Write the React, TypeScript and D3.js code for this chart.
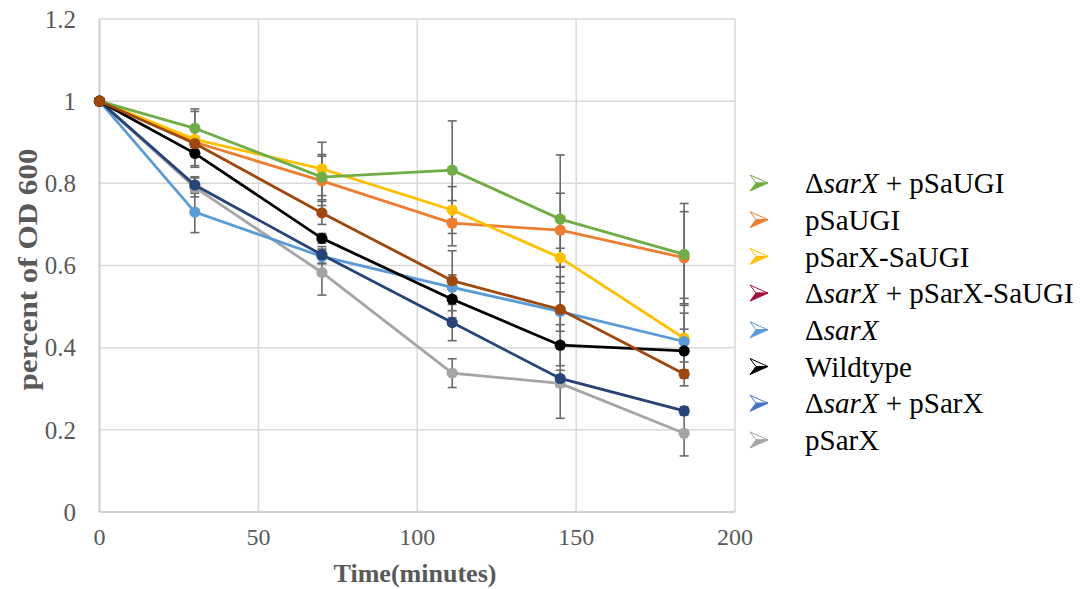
import React from "react";
import * as d3 from "d3";

// Sampling times (minutes)
const times = [0, 30, 70, 111, 145, 184];

// Series names, in legend order
const seriesNames = [
  "ΔsarX + pSaUGI",
  "pSaUGI",
  "pSarX-SaUGI",
  "ΔsarX + pSarX-SaUGI",
  "ΔsarX",
  "Wildtype",
  "ΔsarX + pSarX",
  "pSarX",
];

// Relative OD600 per series
const dSarXpSaUGI = [1, 0.934, 0.815, 0.832, 0.713, 0.627];
const pSaUGI = [1, 0.9, 0.806, 0.703, 0.686, 0.619];
const pSarXSaUGI = [1, 0.907, 0.835, 0.735, 0.619, 0.423];
const dSarXpSarXSaUGI = [1, 0.897, 0.728, 0.563, 0.493, 0.336];
const dSarX = [1, 0.73, 0.622, 0.547, 0.488, 0.415];
const wildtype = [1, 0.873, 0.666, 0.518, 0.406, 0.392];
const dSarXpSarX = [1, 0.796, 0.626, 0.461, 0.325, 0.246];
const pSarX = [1, 0.79, 0.583, 0.338, 0.313, 0.1915];

// Standard deviations per series
const errDSarXpSaUGI = [0, 0.047, 0.055, 0.12, 0.156, 0.124];
const errPSaUGI = [0, 0.012, 0.06, 0.055, 0.09, 0.112];
const errPSarXSaUGI = [0, 0.068, 0.065, 0.057, 0.023, 0.097];
const errDSarXpSarXSaUGI = [0, 0.015, 0.028, 0.073, 0.08, 0.029];
const errDSarX = [0, 0.05, 0.018, 0.03, 0.048, 0.069];
const errWildtype = [0, 0.03, 0.012, 0.045, 0.05, 0.053];
const errDSarXpSarX = [0, 0.02, 0.02, 0.044, 0.02, 0.01];
const errPSarX = [0, 0.023, 0.055, 0.035, 0.085, 0.055];

const seriesValues = [dSarXpSaUGI, pSaUGI, pSarXSaUGI, dSarXpSarXSaUGI, dSarX, wildtype, dSarXpSarX, pSarX];
const seriesErrors = [errDSarXpSaUGI, errPSaUGI, errPSarXSaUGI, errDSarXpSarXSaUGI, errDSarX, errWildtype, errDSarXpSarX, errPSarX];

const lineColors = ["#70AD47", "#ED7D31", "#FFC000", "#9E480E", "#5B9BD5", "#000000", "#264478", "#A5A5A5"];
const legendColors = ["#70AD47", "#ED7D31", "#FFC000", "#A50D3A", "#5B9BD5", "#000000", "#4472C4", "#A5A5A5"];

// Drawing order (later on top)
const drawOrder = [1, 2, 0, 7, 4, 6, 5, 3];

const xTicks = [0, 50, 100, 150, 200];
const yTicks = [0, 0.2, 0.4, 0.6, 0.8, 1, 1.2];

const W = 1089;
const H = 589;
const plot = { left: 99.5, right: 735, top: 19, bottom: 512 };

const serif = "'Liberation Serif', 'Times New Roman', serif";
const tickColor = "#595959";

function LegendLabel({ name }: { name: string }) {
  // Italicise the gene name "sarX" after Δ
  if (name.startsWith("Δ")) {
    const rest = name.slice(5);
    return (
      <>
        <tspan>Δ</tspan>
        <tspan fontStyle="italic">sarX</tspan>
        <tspan>{rest}</tspan>
      </>
    );
  }
  return <>{name}</>;
}

export default function App() {
  const x = d3.scaleLinear().domain([0, 200]).range([plot.left, plot.right]);
  const y = d3.scaleLinear().domain([0, 1.2]).range([plot.bottom, plot.top]);
  const line = d3
    .line<number>()
    .x((_, i) => x(times[i]))
    .y((v) => y(v));

  const legendX = 750;
  const legendY0 = 183;
  const legendStep = 36.7;

  return (
    <svg
      width={W}
      height={H}
      style={{ position: "absolute", left: 0, top: 0, background: "#fff" }}
      fontFamily={serif}
    >
      {/* gridlines */}
      {yTicks.map((t) => (
        <line key={"gy" + t} x1={plot.left} x2={plot.right} y1={y(t)} y2={y(t)} stroke="#d9d9d9" strokeWidth={1.5} />
      ))}
      {xTicks.map((t) => (
        <line key={"gx" + t} x1={x(t)} x2={x(t)} y1={plot.top} y2={plot.bottom} stroke="#d9d9d9" strokeWidth={1.5} />
      ))}
      {/* axes */}
      <line x1={plot.left} x2={plot.left} y1={plot.top} y2={plot.bottom} stroke="#c8c8c8" strokeWidth={1.5} />
      <line x1={plot.left} x2={plot.right} y1={plot.bottom} y2={plot.bottom} stroke="#c8c8c8" strokeWidth={1.5} />

      {/* tick labels */}
      {yTicks.map((t) => (
        <text key={"ly" + t} x={76} y={y(t)} dy="0.35em" textAnchor="end" fontSize={25} fill={tickColor}>
          {d3.format("~g")(t)}
        </text>
      ))}
      {xTicks.map((t) => (
        <text key={"lx" + t} x={x(t)} y={537} dy="0.35em" textAnchor="middle" fontSize={24} fill={tickColor}>
          {t}
        </text>
      ))}

      {/* axis titles */}
      <text x={415} y={573} dy="0.35em" textAnchor="middle" fontSize={25} fontWeight="bold" fill={tickColor}
        textLength={163} lengthAdjust="spacingAndGlyphs">
        Time(minutes)
      </text>
      <text
        transform={`translate(28, ${(plot.top + plot.bottom) / 2 + 4}) rotate(-90)`}
        dy="0.35em"
        textAnchor="middle"
        fontSize={27}
        fontWeight="bold"
        fill={tickColor}
        textLength={242}
        lengthAdjust="spacingAndGlyphs"
      >
        percent of OD 600
      </text>

      {/* error bars */}
      {seriesValues.map((vals, s) =>
        vals.map((v, i) => {
          const e = seriesErrors[s][i];
          if (!e) return null;
          const cx = x(times[i]);
          return (
            <g key={`e${s}-${i}`} stroke="#6a6a6a" strokeWidth={1.6}>
              <line x1={cx} x2={cx} y1={y(v + e)} y2={y(v - e)} />
              <line x1={cx - 4.5} x2={cx + 4.5} y1={y(v + e)} y2={y(v + e)} />
              <line x1={cx - 4.5} x2={cx + 4.5} y1={y(v - e)} y2={y(v - e)} />
            </g>
          );
        })
      )}

      {/* series */}
      {drawOrder.map((s) => (
        <g key={"s" + s}>
          <path d={line(seriesValues[s]) || ""} fill="none" stroke={lineColors[s]} strokeWidth={2.8} />
          {seriesValues[s].map((v, i) => (
            <circle key={i} cx={x(times[i])} cy={y(v)} r={5.6} fill={lineColors[s]} />
          ))}
        </g>
      ))}

      {/* legend */}
      {seriesNames.map((name, i) => {
        const cy = legendY0 + i * legendStep;
        const c = legendColors[i];
        const x0 = legendX;
        const tip = `${x0 + 18},${cy}`;
        const notch = `${x0 + 6},${cy}`;
        return (
          <g key={"lg" + i}>
            <polygon points={`${x0},${cy - 8} ${tip} ${notch}`} fill="#fff" stroke={c} strokeWidth={1} strokeLinejoin="miter" />
            <polygon points={`${notch} ${tip} ${x0},${cy + 8}`} fill={c} stroke={c} strokeWidth={1} />
            <text x={805} y={cy} dy="0.35em" fontSize={29} fill="#000">
              <LegendLabel name={name} />
            </text>
          </g>
        );
      })}
    </svg>
  );
}
